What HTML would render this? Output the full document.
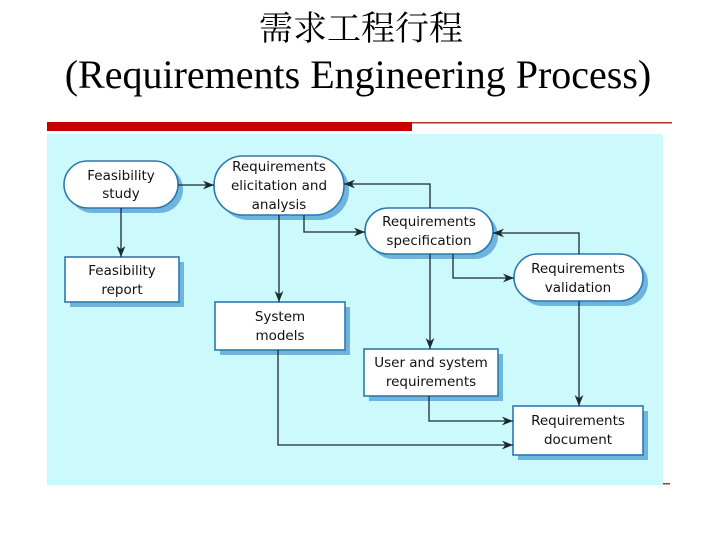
<!DOCTYPE html>
<html><head><meta charset="utf-8"><style>
html,body{margin:0;padding:0;background:#fff;width:717px;height:538px;overflow:hidden}
svg{display:block}
</style></head><body>
<svg width="717" height="538" viewBox="0 0 717 538" xmlns="http://www.w3.org/2000/svg">
<defs>
<marker id="a" viewBox="0 0 10 10" refX="10" refY="5" markerWidth="11" markerHeight="11" markerUnits="userSpaceOnUse" orient="auto">
<path d="M0,1 L10,5 L0,9 L3,5 z" fill="#1a2a30"/></marker>
</defs>
<text x="361" y="40" text-anchor="middle" font-family="'Noto Serif CJK SC','Liberation Serif',serif" font-size="34" fill="#000">需求工程行程</text>
<text x="358" y="88" text-anchor="middle" font-family="'Liberation Serif',serif" font-size="40" fill="#000">(Requirements Engineering Process)</text>
<rect x="47" y="122" width="365" height="9" fill="#c40000"/>
<rect x="412" y="122" width="260" height="1.5" fill="#b03030"/>
<rect x="47" y="134" width="616" height="351" fill="#ccfafc"/>
<rect x="663" y="483" width="7" height="1.5" fill="#b03030"/>
<g fill="#6fb4dc">
<rect x="69" y="166" width="114" height="47" rx="23.5"/>
<rect x="219" y="161" width="130" height="59" rx="29"/>
<rect x="370" y="213" width="128" height="46" rx="23"/>
<rect x="519" y="259" width="129" height="47" rx="23.5"/>
<rect x="70" y="262" width="114" height="45"/>
<rect x="220" y="307" width="130" height="48"/>
<rect x="369" y="354" width="134" height="47"/>
<rect x="518" y="411" width="130" height="49"/>
</g>
<g fill="#fff" stroke="#2a7ab0" stroke-width="1.6">
<rect x="64" y="161" width="114" height="47" rx="23.5"/>
<rect x="214" y="156" width="130" height="59" rx="29"/>
<rect x="365" y="208" width="128" height="46" rx="23"/>
<rect x="514" y="254" width="129" height="47" rx="23.5"/>
<rect x="65" y="257" width="114" height="45"/>
<rect x="215" y="302" width="130" height="48"/>
<rect x="364" y="349" width="134" height="47"/>
<rect x="513" y="406" width="130" height="49"/>
</g>
<g fill="none" stroke="#1a2a30" stroke-width="1.3" marker-end="url(#a)">
<path d="M178,185 H214"/>
<path d="M121,208 V257"/>
<path d="M430,208 V184 H344"/>
<path d="M304,215 V232 H365"/>
<path d="M279,215 V302"/>
<path d="M579,254 V233 H493"/>
<path d="M453,254 V278 H514"/>
<path d="M430,254 V349"/>
<path d="M579,301 V406"/>
<path d="M429,396 V421 H513"/>
<path d="M278,350 V445 H513"/>
</g>
<g font-family="'DejaVu Sans',sans-serif" font-size="13.5" fill="#111" text-anchor="middle">
<text x="121" y="180">Feasibility</text><text x="121" y="198">study</text>
<text x="279" y="171">Requirements</text><text x="279" y="190">elicitation and</text><text x="279" y="209">analysis</text>
<text x="429" y="226">Requirements</text><text x="429" y="245">specification</text>
<text x="578" y="273">Requirements</text><text x="578" y="292">validation</text>
<text x="122" y="275">Feasibility</text><text x="122" y="294">report</text>
<text x="280" y="321">System</text><text x="280" y="340">models</text>
<text x="431" y="367">User and system</text><text x="431" y="386">requirements</text>
<text x="578" y="425">Requirements</text><text x="578" y="444">document</text>
</g>
</svg>
</body></html>
